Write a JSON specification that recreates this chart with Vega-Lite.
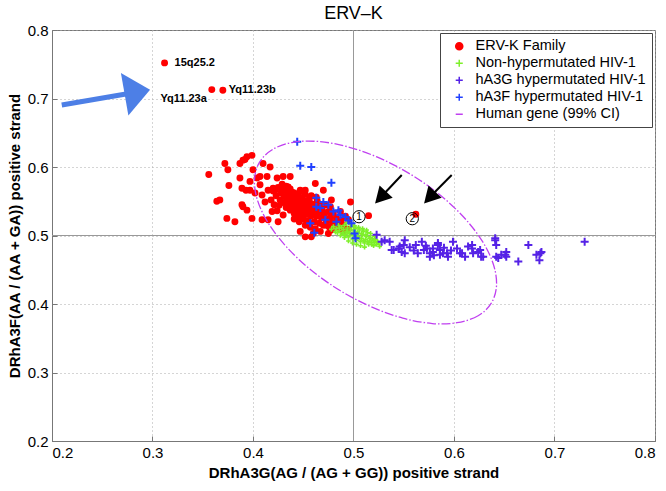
{
"$schema":"https://vega.github.io/schema/vega-lite/v6.json",
"width":603,"height":411,
"autosize":{"type":"none"},
"padding":{"left":52,"top":30,"right":11,"bottom":50},
"background":"white",
"title":{"text":"ERV–K","fontSize":18,"fontWeight":"normal","font":"Liberation Sans","color":"#000","offset":0},
"config":{
 "font":"Liberation Sans",
 "view":{"stroke":"#777","strokeWidth":1},
 "axis":{"labelFontSize":15,"labelColor":"#000","titleFontSize":15,"titleFontWeight":"bold","titleColor":"#000","domainColor":"#777","tickColor":"#777","gridColor":"#aaa","gridDash":[1,3],"tickSize":-5,"labelPadding":9},
 "legend":{"orient":"top-right","offset":3,"labelFontSize":14.5,"labelLimit":400,"labelColor":"#000","strokeColor":"#444","fillColor":"white","padding":6,"rowPadding":2,"symbolSize":50,"symbolOffset":6,"labelOffset":9,"cornerRadius":0,"symbolStrokeWidth":1.5}
},
"datasets":{
 "refs":[{"x":0.5,"y":0.2,"x2":0.5,"y2":0.8},{"x":0.2,"y":0.5,"x2":0.8,"y2":0.5}],
 "erv":[
{"s":"E","x":0.372,"y":0.605},{"s":"E","x":0.375,"y":0.596},{"s":"E","x":0.367,"y":0.552},{"s":"E","x":0.374,"y":0.525},{"s":"E","x":0.382,"y":0.520},{"s":"E","x":0.387,"y":0.605},{"s":"E","x":0.392,"y":0.611},{"s":"E","x":0.399,"y":0.617},{"s":"E","x":0.400,"y":0.596},{"s":"E","x":0.410,"y":0.605},{"s":"E","x":0.417,"y":0.600},{"s":"E","x":0.387,"y":0.584},{"s":"E","x":0.389,"y":0.569},{"s":"E","x":0.397,"y":0.579},{"s":"E","x":0.404,"y":0.584},{"s":"E","x":0.397,"y":0.566},{"s":"E","x":0.390,"y":0.542},{"s":"E","x":0.394,"y":0.537},{"s":"E","x":0.399,"y":0.525},{"s":"E","x":0.409,"y":0.523},{"s":"E","x":0.415,"y":0.523},{"s":"E","x":0.425,"y":0.520},{"s":"E","x":0.412,"y":0.549},{"s":"E","x":0.420,"y":0.569},{"s":"E","x":0.424,"y":0.584},{"s":"E","x":0.430,"y":0.586},{"s":"E","x":0.437,"y":0.586},{"s":"E","x":0.447,"y":0.566},{"s":"E","x":0.452,"y":0.566},{"s":"E","x":0.462,"y":0.576},{"s":"E","x":0.478,"y":0.552},{"s":"E","x":0.497,"y":0.549},{"s":"E","x":0.447,"y":0.506},{"s":"E","x":0.452,"y":0.498},{"s":"E","x":0.458,"y":0.498},{"s":"E","x":0.467,"y":0.506},{"s":"E","x":0.475,"y":0.503},{"s":"E","x":0.490,"y":0.506},{"s":"E","x":0.495,"y":0.509},{"s":"E","x":0.515,"y":0.529},{"s":"E","x":0.562,"y":0.531},{"s":"E","x":0.356,"y":0.589},{"s":"E","x":0.364,"y":0.550},{"s":"E","x":0.376,"y":0.573},{"s":"E","x":0.390,"y":0.610},{"s":"E","x":0.394,"y":0.615},{"s":"E","x":0.393,"y":0.566},{"s":"E","x":0.389,"y":0.545},{"s":"E","x":0.407,"y":0.586},{"s":"E","x":0.414,"y":0.586},{"s":"E","x":0.407,"y":0.574},{"s":"E","x":0.402,"y":0.562},{"s":"E","x":0.409,"y":0.559},{"s":"E","x":0.415,"y":0.566},{"s":"E","x":0.422,"y":0.566},{"s":"E","x":0.429,"y":0.569},{"s":"E","x":0.435,"y":0.571},{"s":"E","x":0.419,"y":0.535},{"s":"E","x":0.470,"y":0.566},{"s":"E","x":0.477,"y":0.542},{"s":"E","x":0.487,"y":0.535},{"s":"E","x":0.492,"y":0.528},{"s":"E","x":0.495,"y":0.523},{"s":"E","x":0.460,"y":0.503},{"s":"E","x":0.473,"y":0.515},{"s":"E","x":0.478,"y":0.508},{"s":"E","x":0.483,"y":0.520},{"s":"E","x":0.312,"y":0.752},{"s":"E","x":0.359,"y":0.713},{"s":"E","x":0.370,"y":0.712},
{"s":"E","x":0.420,"y":0.565},{"s":"E","x":0.423,"y":0.558},{"s":"E","x":0.425,"y":0.570},{"s":"E","x":0.427,"y":0.552},{"s":"E","x":0.428,"y":0.562},{"s":"E","x":0.430,"y":0.548},{"s":"E","x":0.431,"y":0.557},{"s":"E","x":0.432,"y":0.566},{"s":"E","x":0.433,"y":0.541},{"s":"E","x":0.434,"y":0.552},{"s":"E","x":0.435,"y":0.560},{"s":"E","x":0.436,"y":0.545},{"s":"E","x":0.437,"y":0.537},{"s":"E","x":0.438,"y":0.556},{"s":"E","x":0.439,"y":0.549},{"s":"E","x":0.440,"y":0.563},{"s":"E","x":0.440,"y":0.541},{"s":"E","x":0.441,"y":0.532},{"s":"E","x":0.442,"y":0.553},{"s":"E","x":0.443,"y":0.545},{"s":"E","x":0.444,"y":0.558},{"s":"E","x":0.444,"y":0.537},{"s":"E","x":0.445,"y":0.528},{"s":"E","x":0.446,"y":0.549},{"s":"E","x":0.447,"y":0.541},{"s":"E","x":0.448,"y":0.555},{"s":"E","x":0.448,"y":0.533},{"s":"E","x":0.449,"y":0.546},{"s":"E","x":0.450,"y":0.524},{"s":"E","x":0.450,"y":0.538},{"s":"E","x":0.451,"y":0.551},{"s":"E","x":0.452,"y":0.543},{"s":"E","x":0.453,"y":0.531},{"s":"E","x":0.454,"y":0.547},{"s":"E","x":0.455,"y":0.537},{"s":"E","x":0.455,"y":0.522},{"s":"E","x":0.456,"y":0.553},{"s":"E","x":0.457,"y":0.541},{"s":"E","x":0.458,"y":0.529},{"s":"E","x":0.459,"y":0.546},{"s":"E","x":0.460,"y":0.535},{"s":"E","x":0.461,"y":0.520},{"s":"E","x":0.462,"y":0.541},{"s":"E","x":0.463,"y":0.528},{"s":"E","x":0.464,"y":0.550},{"s":"E","x":0.465,"y":0.534},{"s":"E","x":0.466,"y":0.518},{"s":"E","x":0.467,"y":0.543},{"s":"E","x":0.468,"y":0.526},{"s":"E","x":0.469,"y":0.537},{"s":"E","x":0.470,"y":0.515},{"s":"E","x":0.471,"y":0.531},{"s":"E","x":0.472,"y":0.545},{"s":"E","x":0.473,"y":0.522},{"s":"E","x":0.475,"y":0.535},{"s":"E","x":0.476,"y":0.512},{"s":"E","x":0.477,"y":0.527},{"s":"E","x":0.479,"y":0.519},{"s":"E","x":0.480,"y":0.533},{"s":"E","x":0.482,"y":0.514},{"s":"E","x":0.483,"y":0.526},{"s":"E","x":0.485,"y":0.519},{"s":"E","x":0.487,"y":0.510},{"s":"E","x":0.488,"y":0.523},{"s":"E","x":0.490,"y":0.515},{"s":"E","x":0.426,"y":0.544},{"s":"E","x":0.429,"y":0.575},{"s":"E","x":0.433,"y":0.572},{"s":"E","x":0.437,"y":0.568},{"s":"E","x":0.441,"y":0.524},{"s":"E","x":0.446,"y":0.520},{"s":"E","x":0.452,"y":0.515},{"s":"E","x":0.457,"y":0.512},{"s":"E","x":0.462,"y":0.510},{"s":"E","x":0.458,"y":0.558},{"s":"E","x":0.463,"y":0.556},{"s":"E","x":0.452,"y":0.560},{"s":"E","x":0.446,"y":0.563},{"s":"E","x":0.418,"y":0.552},{"s":"E","x":0.421,"y":0.545},{"s":"E","x":0.424,"y":0.536},{"s":"E","x":0.430,"y":0.530}
 ],
 "non":[
{"s":"N","x":0.480,"y":0.513},{"s":"N","x":0.483,"y":0.510},{"s":"N","x":0.485,"y":0.515},{"s":"N","x":0.486,"y":0.507},{"s":"N","x":0.488,"y":0.512},{"s":"N","x":0.489,"y":0.504},{"s":"N","x":0.490,"y":0.509},{"s":"N","x":0.491,"y":0.515},{"s":"N","x":0.492,"y":0.501},{"s":"N","x":0.493,"y":0.506},{"s":"N","x":0.494,"y":0.511},{"s":"N","x":0.495,"y":0.498},{"s":"N","x":0.496,"y":0.503},{"s":"N","x":0.497,"y":0.508},{"s":"N","x":0.498,"y":0.513},{"s":"N","x":0.499,"y":0.495},{"s":"N","x":0.500,"y":0.500},{"s":"N","x":0.501,"y":0.505},{"s":"N","x":0.502,"y":0.510},{"s":"N","x":0.503,"y":0.493},{"s":"N","x":0.504,"y":0.498},{"s":"N","x":0.505,"y":0.503},{"s":"N","x":0.506,"y":0.508},{"s":"N","x":0.507,"y":0.491},{"s":"N","x":0.508,"y":0.496},{"s":"N","x":0.509,"y":0.501},{"s":"N","x":0.510,"y":0.506},{"s":"N","x":0.511,"y":0.489},{"s":"N","x":0.512,"y":0.494},{"s":"N","x":0.513,"y":0.499},{"s":"N","x":0.514,"y":0.504},{"s":"N","x":0.515,"y":0.487},{"s":"N","x":0.516,"y":0.492},{"s":"N","x":0.517,"y":0.497},{"s":"N","x":0.518,"y":0.490},{"s":"N","x":0.519,"y":0.495},{"s":"N","x":0.520,"y":0.485},{"s":"N","x":0.521,"y":0.490},{"s":"N","x":0.522,"y":0.494},{"s":"N","x":0.523,"y":0.487},{"s":"N","x":0.525,"y":0.489},{"s":"N","x":0.526,"y":0.484},{"s":"N","x":0.487,"y":0.500},{"s":"N","x":0.491,"y":0.497},{"s":"N","x":0.495,"y":0.492},{"s":"N","x":0.499,"y":0.489},{"s":"N","x":0.503,"y":0.487},{"s":"N","x":0.507,"y":0.485},{"s":"N","x":0.511,"y":0.483},{"s":"N","x":0.484,"y":0.504},{"s":"N","x":0.497,"y":0.516},{"s":"N","x":0.501,"y":0.514},{"s":"N","x":0.505,"y":0.512},{"s":"N","x":0.509,"y":0.510},{"s":"N","x":0.513,"y":0.508},{"s":"N","x":0.517,"y":0.503},{"s":"N","x":0.521,"y":0.499},{"s":"N","x":0.493,"y":0.518},{"s":"N","x":0.478,"y":0.509},{"s":"N","x":0.482,"y":0.505},{"s":"N","x":0.486,"y":0.511},{"s":"N","x":0.490,"y":0.502},{"s":"N","x":0.494,"y":0.505},{"s":"N","x":0.498,"y":0.502},{"s":"N","x":0.502,"y":0.499},{"s":"N","x":0.506,"y":0.496},{"s":"N","x":0.510,"y":0.493},{"s":"N","x":0.514,"y":0.491},{"s":"N","x":0.518,"y":0.487},{"s":"N","x":0.500,"y":0.508},{"s":"N","x":0.504,"y":0.505},{"s":"N","x":0.508,"y":0.503},{"s":"N","x":0.512,"y":0.500},{"s":"N","x":0.516,"y":0.496},{"s":"N","x":0.520,"y":0.493},{"s":"N","x":0.524,"y":0.491}
 ],
 "a3g":[
{"s":"G","x":0.523,"y":0.501},{"s":"G","x":0.528,"y":0.491},{"s":"G","x":0.531,"y":0.493},{"s":"G","x":0.536,"y":0.491},{"s":"G","x":0.540,"y":0.479},{"s":"G","x":0.546,"y":0.484},{"s":"G","x":0.548,"y":0.476},{"s":"G","x":0.551,"y":0.493},{"s":"G","x":0.550,"y":0.486},{"s":"G","x":0.564,"y":0.474},{"s":"G","x":0.568,"y":0.491},{"s":"G","x":0.570,"y":0.479},{"s":"G","x":0.573,"y":0.481},{"s":"G","x":0.576,"y":0.469},{"s":"G","x":0.579,"y":0.476},{"s":"G","x":0.584,"y":0.489},{"s":"G","x":0.586,"y":0.479},{"s":"G","x":0.589,"y":0.474},{"s":"G","x":0.594,"y":0.469},{"s":"G","x":0.599,"y":0.491},{"s":"G","x":0.603,"y":0.481},{"s":"G","x":0.606,"y":0.474},{"s":"G","x":0.611,"y":0.469},{"s":"G","x":0.614,"y":0.484},{"s":"G","x":0.618,"y":0.481},{"s":"G","x":0.619,"y":0.474},{"s":"G","x":0.626,"y":0.479},{"s":"G","x":0.627,"y":0.469},{"s":"G","x":0.641,"y":0.493},{"s":"G","x":0.642,"y":0.486},{"s":"G","x":0.644,"y":0.467},{"s":"G","x":0.651,"y":0.472},{"s":"G","x":0.652,"y":0.476},{"s":"G","x":0.664,"y":0.462},{"s":"G","x":0.674,"y":0.486},{"s":"G","x":0.682,"y":0.472},{"s":"G","x":0.685,"y":0.464},{"s":"G","x":0.687,"y":0.476},{"s":"G","x":0.730,"y":0.491},{"s":"G","x":0.538,"y":0.479},{"s":"G","x":0.545,"y":0.481},{"s":"G","x":0.551,"y":0.474},{"s":"G","x":0.576,"y":0.474},{"s":"G","x":0.579,"y":0.481},{"s":"G","x":0.584,"y":0.486},{"s":"G","x":0.586,"y":0.472},{"s":"G","x":0.593,"y":0.474},{"s":"G","x":0.608,"y":0.474},{"s":"G","x":0.618,"y":0.486},{"s":"G","x":0.624,"y":0.476},{"s":"G","x":0.629,"y":0.469},{"s":"G","x":0.641,"y":0.496},{"s":"G","x":0.642,"y":0.469},{"s":"G","x":0.647,"y":0.472},{"s":"G","x":0.652,"y":0.469},{"s":"G","x":0.686,"y":0.474},{"s":"G","x":0.556,"y":0.483},{"s":"G","x":0.560,"y":0.478},{"s":"G","x":0.562,"y":0.486},{"s":"G","x":0.572,"y":0.485},{"s":"G","x":0.580,"y":0.471},{"s":"G","x":0.590,"y":0.482},{"s":"G","x":0.597,"y":0.478}
 ],
 "a3f":[
{"s":"F","x":0.444,"y":0.637},{"s":"F","x":0.447,"y":0.602},{"s":"F","x":0.458,"y":0.600},{"s":"F","x":0.478,"y":0.577},{"s":"F","x":0.463,"y":0.555},{"s":"F","x":0.463,"y":0.542},{"s":"F","x":0.467,"y":0.540},{"s":"F","x":0.472,"y":0.523},{"s":"F","x":0.457,"y":0.518},{"s":"F","x":0.461,"y":0.504},{"s":"F","x":0.485,"y":0.537},{"s":"F","x":0.483,"y":0.520},{"s":"F","x":0.492,"y":0.527},{"s":"F","x":0.495,"y":0.522},{"s":"F","x":0.498,"y":0.518},{"s":"F","x":0.501,"y":0.503},{"s":"F","x":0.502,"y":0.496},{"s":"F","x":0.487,"y":0.530},{"s":"F","x":0.475,"y":0.545},{"s":"F","x":0.480,"y":0.535},{"s":"F","x":0.470,"y":0.549}
 ],
 "ell":[
{"s":"H","i":0,"x":0.6371,"y":0.4012},{"s":"H","i":1,"x":0.6240,"y":0.3828},{"s":"H","i":2,"x":0.6030,"y":0.3727},{"s":"H","i":3,"x":0.5784,"y":0.3715},{"s":"H","i":4,"x":0.5490,"y":0.3794},{"s":"H","i":5,"x":0.5177,"y":0.3959},{"s":"H","i":6,"x":0.4866,"y":0.4197},{"s":"H","i":7,"x":0.4580,"y":0.4492},{"s":"H","i":8,"x":0.4338,"y":0.4826},{"s":"H","i":9,"x":0.4155,"y":0.5174},{"s":"H","i":10,"x":0.4045,"y":0.5513},{"s":"H","i":11,"x":0.4015,"y":0.5821},{"s":"H","i":12,"x":0.4067,"y":0.6075},{"s":"H","i":13,"x":0.4198,"y":0.6259},{"s":"H","i":14,"x":0.4398,"y":0.6361},{"s":"H","i":15,"x":0.4654,"y":0.6372},{"s":"H","i":16,"x":0.4948,"y":0.6293},{"s":"H","i":17,"x":0.5261,"y":0.6129},{"s":"H","i":18,"x":0.5571,"y":0.5891},{"s":"H","i":19,"x":0.5858,"y":0.5595},{"s":"H","i":20,"x":0.6100,"y":0.5262},{"s":"H","i":21,"x":0.6283,"y":0.4914},{"s":"H","i":22,"x":0.6393,"y":0.4574},{"s":"H","i":23,"x":0.6423,"y":0.4267}
 ],
 "labs":[{"x":0.312,"y":0.752,"t":"15q25.2"},{"x":0.359,"y":0.713,"t":"Yq11.23a"},{"x":0.370,"y":0.712,"t":"Yq11.23b"}],
 "circ":[{"x":0.5055,"y":0.5274,"t":"1"},{"x":0.5585,"y":0.5245,"t":"2"}],
 "shafts":[{"k":"b","x":0.2097,"y":0.6905,"x2":0.2765,"y2":0.7073},{"k":"k","x":0.548,"y":0.5883,"x2":0.5276,"y2":0.5565},{"k":"k","x":0.5977,"y":0.5883,"x2":0.5763,"y2":0.5565}],
 "heads":[{"k":"b","x":0.2765,"y":0.7073},{"k":"k","x":0.5276,"y":0.5565},{"k":"k","x":0.5763,"y":0.5565}]
},
"encoding":{
 "x":{"field":"x","type":"quantitative","scale":{"domain":[0.2,0.8],"nice":false,"zero":false},"axis":{"title":"DRhA3G(AG / (AG + GG)) positive strand","values":[0.2,0.3,0.4,0.5,0.6,0.7,0.8],"format":".1f","titlePadding":5}},
 "y":{"field":"y","type":"quantitative","scale":{"domain":[0.2,0.8],"nice":false,"zero":false},"axis":{"title":"DRhA3F(AA / (AA + GA)) positive strand","values":[0.2,0.3,0.4,0.5,0.6,0.7,0.8],"format":".1f","titlePadding":5}}
},
"layer":[
 {"data":{"name":"refs"},"mark":{"type":"rule","color":"#999","strokeWidth":1},"encoding":{"x2":{"field":"x2"},"y2":{"field":"y2"}}},
 {"data":{"name":"erv"},"mark":{"type":"point","filled":true,"size":48,"opacity":1,"strokeWidth":0},
  "encoding":{
   "fill":{"field":"s","type":"nominal","scale":{"domain":["E","N","G","F","H"],"range":["#ff0000","#7ef02a","#5522e6","#2040ff","#c040f0"]},"legend":{"title":null,"labelExpr":"datum.value=='E'?'ERV-K Family':datum.value=='N'?'Non-hypermutated HIV-1':datum.value=='G'?'hA3G hypermutated HIV-1':datum.value=='F'?'hA3F hypermutated HIV-1':'Human gene (99% CI)'"}},
   "stroke":{"field":"s","type":"nominal","scale":{"domain":["E","N","G","F","H"],"range":["#ff0000","#7ef02a","#5522e6","#2040ff","#c040f0"]},"legend":{"title":null,"labelExpr":"datum.value=='E'?'ERV-K Family':datum.value=='N'?'Non-hypermutated HIV-1':datum.value=='G'?'hA3G hypermutated HIV-1':datum.value=='F'?'hA3F hypermutated HIV-1':'Human gene (99% CI)'"}},
   "shape":{"field":"s","type":"nominal","scale":{"domain":["E","N","G","F","H"],"range":["circle","M-1,0H1M0,-1V1","M-1,0H1M0,-1V1","M-1,0H1M0,-1V1","stroke"]},"legend":{"title":null,"labelExpr":"datum.value=='E'?'ERV-K Family':datum.value=='N'?'Non-hypermutated HIV-1':datum.value=='G'?'hA3G hypermutated HIV-1':datum.value=='F'?'hA3F hypermutated HIV-1':'Human gene (99% CI)'"}}
  }},
 {"data":{"name":"non"},"mark":{"type":"point","filled":true,"size":22,"opacity":1,"strokeWidth":1.6},
  "encoding":{"fill":{"field":"s","type":"nominal"},"stroke":{"field":"s","type":"nominal"},"shape":{"field":"s","type":"nominal"}}},
 {"data":{"name":"a3g"},"mark":{"type":"point","filled":true,"size":64,"opacity":1,"strokeWidth":2},
  "encoding":{"fill":{"field":"s","type":"nominal"},"stroke":{"field":"s","type":"nominal"},"shape":{"field":"s","type":"nominal"}}},
 {"data":{"name":"a3f"},"mark":{"type":"point","filled":true,"size":64,"opacity":1,"strokeWidth":2},
  "encoding":{"fill":{"field":"s","type":"nominal"},"stroke":{"field":"s","type":"nominal"},"shape":{"field":"s","type":"nominal"}}},
 {"data":{"name":"ell"},"mark":{"type":"line","interpolate":"cardinal-closed","strokeDash":[9,2,1.5,2],"strokeWidth":1.3},
  "encoding":{"order":{"field":"i","type":"quantitative"},"stroke":{"field":"s","type":"nominal"}}},
 {"data":{"name":"circ"},"mark":{"type":"point","shape":"circle","size":150,"filled":false,"stroke":"#000","strokeWidth":1,"opacity":1}},
 {"data":{"name":"circ"},"mark":{"type":"text","fontSize":10,"align":"center","baseline":"middle","color":"#000"},"encoding":{"text":{"field":"t"}}},
 {"data":{"name":"labs"},"transform":[{"filter":"datum.t=='15q25.2'"}],"mark":{"type":"text","fontSize":11,"fontWeight":"bold","align":"left","baseline":"middle","dx":10,"color":"#000"},"encoding":{"text":{"field":"t"}}},
 {"data":{"name":"labs"},"transform":[{"filter":"datum.t=='Yq11.23a'"}],"mark":{"type":"text","fontSize":11,"fontWeight":"bold","align":"right","baseline":"middle","dx":-5,"dy":9,"color":"#000"},"encoding":{"text":{"field":"t"}}},
 {"data":{"name":"labs"},"transform":[{"filter":"datum.t=='Yq11.23b'"}],"mark":{"type":"text","fontSize":11,"fontWeight":"bold","align":"left","baseline":"middle","dx":6,"color":"#000"},"encoding":{"text":{"field":"t"}}},
 {"data":{"name":"shafts"},"transform":[{"filter":"datum.k=='b'"}],"mark":{"type":"rule","color":"#4d7fe6","strokeWidth":5},"encoding":{"x2":{"field":"x2"},"y2":{"field":"y2"}}},
 {"data":{"name":"shafts"},"transform":[{"filter":"datum.k=='k'"}],"mark":{"type":"rule","color":"#000","strokeWidth":2},"encoding":{"x2":{"field":"x2"},"y2":{"field":"y2"}}},
 {"data":{"name":"heads"},"transform":[{"filter":"datum.k=='b'"}],"mark":{"type":"point","shape":"M1,0L-0.2,-1L-0.2,1Z","size":1849,"angle":350,"filled":true,"color":"#4d7fe6","opacity":1}},
 {"data":{"name":"heads"},"transform":[{"filter":"datum.k=='k'"}],"mark":{"type":"point","shape":"M1,0L-0.8,-1L-0.8,1Z","size":324,"angle":133,"filled":true,"color":"#000","opacity":1}}
]
}
